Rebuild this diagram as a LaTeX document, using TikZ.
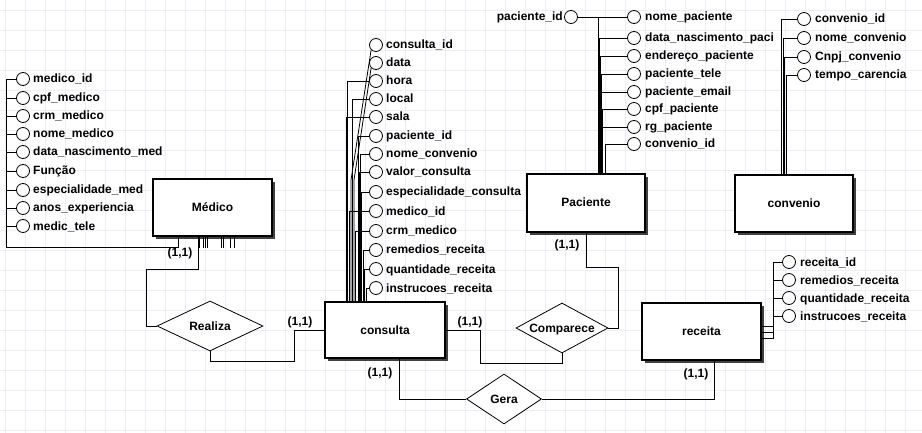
\documentclass[tikz,border=0pt]{standalone}
\usepackage{fontspec}
\setmainfont{Liberation Sans}
\usetikzlibrary{shapes.geometric,shadows}
\definecolor{gridc}{RGB}{234,239,245}
\begin{document}
\begin{tikzpicture}[x=1pt,y=-1pt,
  every node/.style={font=\fontsize{12}{14}\selectfont\bfseries,text height=9pt,text depth=1pt},
  attr/.style={circle,draw,fill=white,minimum size=13pt,inner sep=0pt,line width=0.8pt,text height=,text depth=},
  albl/.style={anchor=west,inner sep=0pt},
  ent/.style={draw,fill=white,line width=1.2pt,drop shadow={shadow xshift=3pt,shadow yshift=-3pt,fill=black!75,opacity=1}},
  rel/.style={diamond,aspect=2,draw,fill=white,inner sep=0pt,line width=0.8pt},
  lnk/.style={line width=0.8pt},
  card/.style={inner sep=0pt}]
\useasboundingbox (0,0) rectangle (922,433);
\fill[white] (0,0) rectangle (922,433);
\foreach \x in {5,25,...,915} \draw[gridc,line width=0.6pt] (\x,0) -- (\x,433);
\foreach \y in {10,30,...,430} \draw[gridc,line width=0.6pt] (0,\y) -- (922,\y);

% entities
\node[ent,minimum width=119pt,minimum height=57pt] (medico) at (212.5,207.5) {Médico};
\node[ent,minimum width=120pt,minimum height=56pt] (consulta) at (385,330) {consulta};
\node[ent,minimum width=118pt,minimum height=58pt] (paciente) at (586,203) {Paciente};
\node[ent,minimum width=118pt,minimum height=57pt] (convenio) at (794,203.5) {convenio};
\node[ent,minimum width=119pt,minimum height=57pt] (receita) at (701.5,331.5) {receita};

% relationships
\node[rel,minimum width=106pt,minimum height=50pt] (realiza) at (210,326) {Realiza};
\node[rel,minimum width=92pt,minimum height=50pt] (comparece) at (562,328) {Comparece};
\node[rel,minimum width=75pt,minimum height=50pt] (gera) at (504,399) {Gera};

% medico attributes
\foreach \i/\y/\t in {1/79/medico\_id,2/98/cpf\_medico,3/116/crm\_medico,4/134/nome\_medico,5/152/data\_nascimento\_med,6/171/Função,7/190/especialidade\_med,8/208/anos\_experiencia,9/226/medic\_tele}{
  \node[attr] (ma\i) at (23,\y) {};
  \node[albl] (mt\i) at (33,\y) {\t};
}
\coordinate (mc) at (6,247);
\coordinate (mj) at (178,247);
\draw[lnk] (ma1.west) -| (mc) -- (mj) -- (mj |- medico.south);
\foreach \i in {2,...,9} \draw[lnk] (ma\i.west) -- (ma\i.west -| mc);
\foreach \dx in {-13.5,-9.5,-7.5,-5.5,8.5,10.5,17.5,21.5} \draw[lnk] ([xshift=\dx pt]medico.south) -- ++(0,11);

% consulta attributes
\foreach \i/\y/\t in {1/45/consulta\_id,2/63/data,3/81/hora,4/99/local,5/117/sala,6/136/paciente\_id,7/154/nome\_convenio,8/172/valor\_consulta,9/192/especialidade\_consulta,10/211/medico\_id,11/231/crm\_medico,12/250/remedios\_receita,13/269/quantidade\_receita,14/288/instrucoes\_receita}{
  \node[attr] (ca\i) at (376,\y) {};
  \node[albl] (ct\i) at (386,\y) {\t};
}
\coordinate (d1) at (351,180);
\coordinate (d2) at (354,180);
\draw[lnk] (ca1.south west) -- (d1) -- (d1 |- consulta.north);
\draw[lnk] (ca2.south west) -- (d2) -- (d2 |- consulta.north);
\foreach \i/\dx in {3/-38,4/-33,5/-39,6/-27,7/-25,8/-26,9/-24,10/-36,11/-30,12/-22,13/-20.5,14/-19}
  \draw[lnk] (ca\i.west) -| ([xshift=\dx pt]consulta.north);

% paciente attributes
\node[attr] (pid) at (571,17) {};
\node[anchor=east,inner sep=0pt] (pidt) at (563,17) {paciente\_id};
\foreach \i/\y/\t in {1/17/nome\_paciente,2/38/data\_nascimento\_paci,3/56/endereço\_paciente,4/74/paciente\_tele,5/92/paciente\_email,6/109/cpf\_paciente,7/127/rg\_paciente,8/144/convenio\_id}{
  \node[attr] (pa\i) at (634,\y) {};
  \node[albl] (pt\i) at (645,\y) {\t};
}
\draw[lnk] (pid.east) -- (pa1.west);
\foreach \i/\dx in {1/12,2/13,3/14,4/15,5/15.5,6/16,7/14.5,8/19}
  \draw[lnk] (pa\i.west) -| ([xshift=\dx pt]paciente.north);

% convenio attributes
\foreach \i/\y/\t in {1/19/convenio\_id,2/38/nome\_convenio,3/57/Cnpj\_convenio,4/75/tempo\_carencia}{
  \node[attr] (va\i) at (804,\y) {};
  \node[albl] (vt\i) at (815,\y) {\t};
}
\foreach \i/\dx in {1/-13,2/-11,3/-9.5,4/-8}
  \draw[lnk] (va\i.west) -| ([xshift=\dx pt]convenio.north);

% receita attributes
\foreach \i/\y/\t in {1/262/receita\_id,2/280/remedios\_receita,3/298/quantidade\_receita,4/316/instrucoes\_receita}{
  \node[attr] (ra\i) at (789,\y) {};
  \node[albl] (rt\i) at (800,\y) {\t};
}
\coordinate (rv) at (773,338);
\draw[lnk] (ra1.west) -| (rv) -- (rv -| receita.east);
\foreach \i in {2,3,4} \draw[lnk] (ra\i.west) -- (ra\i.west -| rv);
\draw[lnk] ([yshift=5.5pt]receita.east) -- ++(12,0);
\draw[lnk] ([yshift=-0.5pt]receita.east) -- ++(12,0);

% relationship connectors
\coordinate (rA) at (146,269);
\draw[lnk] ([xshift=-14.5pt]medico.south) |- (rA) |- (realiza.west);
\coordinate (rB) at (294,361);
\draw[lnk] (realiza.south) |- (rB) |- (consulta.west);
\coordinate (cA) at (480,363);
\draw[lnk] (consulta.east) -| (cA) -| (comparece.south);
\coordinate (pA) at (618,267);
\draw[lnk] (comparece.east) -| (pA) -| (paciente.south);
\draw[lnk] ([xshift=14pt]consulta.south) |- (gera.west);
\draw[lnk] (gera.east) -| ([xshift=12.5pt]receita.south);

% cardinalities
\node[card] (k1) at (180,252) {(1,1)};
\node[card] (k2) at (300,321) {(1,1)};
\node[card] (k3) at (470,321) {(1,1)};
\node[card] (k4) at (567,244) {(1,1)};
\node[card] (k5) at (380,372) {(1,1)};
\node[card] (k6) at (696,373) {(1,1)};
\end{tikzpicture}
\end{document}
